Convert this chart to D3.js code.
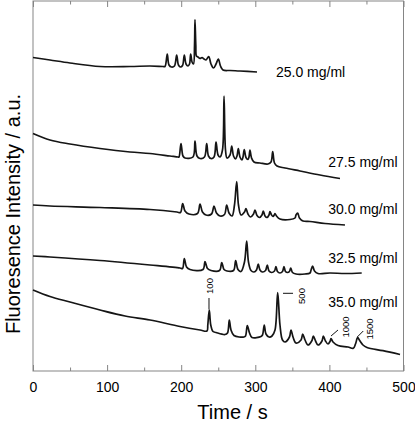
<!DOCTYPE html>
<html><head><meta charset="utf-8">
<script src="https://cdn.jsdelivr.net/npm/d3@7"></script>
<style>
html,body{margin:0;padding:0;background:#fff;}
svg{display:block;font-family:"Liberation Sans",Arial,sans-serif;}
</style></head>
<body>
<svg id="chart" width="415" height="422"></svg>
<script>
// ---- data (time in s, intensity in arbitrary units) ----
const xTicks = [0, 100, 200, 300, 400, 500];
const xMinorTicks = [50, 150, 250, 350, 450];
const seriesNames = ["25.0 mg/ml", "27.5 mg/ml", "30.0 mg/ml", "32.5 mg/ml", "35.0 mg/ml"];

const t250 = [0,22.9,49.9,90.4,130.9,157.9,175.4,178.1,181.2,183.5,186.9,190.9,193.9,196.3,199.0,201.8,204.2,206.5,209.2,211.2,212.8,214.6,216.6,218.0,218.6,219.7,220.6,222.7,225.4,228.1,230.8,233.5,237.1,240.2,243.6,247.0,250.1,253.0,256.4,265.9,279.3,302.3];
const v250 = [313.5,311,308,304.5,304.5,305,304.5,304.5,317,306,304,305,316,306,304,305.5,316,307,305,307,317,309,307,326,351.5,326,315,314,312.5,313.5,312,311,314.5,307,303,307,312,305,301,300.5,300,299];

const t275 = [0,22.9,49.9,90.4,130.9,157.9,184.9,195.7,197.0,199.7,202.4,205.1,215.9,218.6,221.3,225.4,231.4,234.4,236.8,240.2,244.3,247.0,249.7,252.4,255.7,257.8,259.8,261.8,265.9,268.2,270.6,273.3,275.3,277.1,279.3,282.0,283.4,285.1,287.4,290.1,291.5,292.8,294.9,298.2,306.3,317.1,321.2,323.5,325.9,329.3,340.1,360.3,387.3,414.3];
const v275 = [237.5,231,227,222.5,219,217.5,215,214,214,227.5,215,213,214,230,215,212.5,214,227.5,215,212.5,214,229,216,214,221,275,221,213,216,225,215,212,215,222.5,214,211,214,221.5,213.5,211.5,214,221,213,209,208,207,209,219.5,208,205,203,200,196,192.5];

const t300 = [0,22.9,90.4,157.9,194.3,199.0,202.0,205.1,210.5,222.0,225.4,228.7,233.5,240.9,244.3,247.6,252.4,258.4,261.4,264.5,268.6,271.9,274.9,277.3,280.7,285.4,287.4,290.1,293.5,297.6,299.6,302.3,305.7,309.0,310.8,313.1,315.8,318.5,319.8,321.9,323.9,325.9,326.6,328.6,333.3,346.8,353.6,354.9,357.2,359.6,364.4,373.8,394.1,421.0];
const v300 = [166,165,163.5,161.5,159,158.5,167.5,160,157,157.5,167,159,156,157,165,158,155,156.5,166,158,155,166,189.5,166,156,159,162.5,157,154,157,161,155.5,153.5,156,160,155,153.5,156,159.5,156,154.5,156.5,157.5,155,152,151.5,153,156,158,153,150,149.5,147.5,146];

const t325 = [0,22.9,90.4,157.9,198.4,201.8,204.2,207.2,211.9,229.4,232.1,235.5,240.2,251.7,254.7,257.8,261.8,270.6,273.5,276.6,280.7,285.4,288.4,290.8,294.2,298.2,301.6,304.0,306.3,309.7,313.8,316.2,318.5,321.9,325.9,327.9,329.9,333.3,336.7,338.7,340.7,343.4,346.1,347.8,350.2,354.9,367.1,373.8,375.1,377.4,379.9,384.6,400.8,421.0,443.6];
const v325 = [115,114,110.5,106,103,102.5,112.5,104,101.5,101.5,109.5,102.5,100.5,100.5,108.5,101.5,100,100.5,110.5,101.5,99.5,109,130,109,100.5,99,101,107,101,99,100.5,106,100,98.5,100,104.5,99.5,98,99.5,104.5,99.5,98.5,99.5,103,98.5,97,97,98,100.5,105,100,97.5,98,97.5,98];

const t350 = [0,22.9,49.9,90.4,124.2,157.9,198.4,225.4,234.8,235.9,237.9,239.9,242.9,247.0,259.1,262.5,264.9,267.2,271.2,284.7,286.8,289.2,292.2,295.5,307.7,309.7,312.1,314.4,318.5,322.5,326.6,330.2,333.3,336.7,340.1,346.1,348.2,350.9,354.9,361.7,364.0,367.1,371.1,376.5,378.3,381.3,384.6,390.0,391.8,394.7,398.1,400.8,402.2,404.9,411.6,425.1,432.2,435.2,438.2,441.3,445.3,450.7,472.3,495.3];
const v350 = [81,74.5,69,61,55,51,44.5,41,40,46,61,46,39.5,38.5,36.5,38,51,41,35.5,34,35,45.5,38,33.5,34.5,36,46,37,34,35,41,78.5,46,31,29,34,41,34,28,31,37,31,26,30.5,35,30,26,30,35,30,27,29.5,32.5,29,25.5,24,22.7,27,33.3,30,26,23.5,20.3,16.5];

const seriesTimes = [t250, t275, t300, t325, t350];
const seriesValues = [v250, v275, v300, v325, v350];
const labelTimes = [327.9, 398.5, 398.5, 398.5, 398.5];
const labelValues = [294.5, 204.5, 156.7, 108, 64];

const annoTexts = ["100", "500", "1000", "1500"];
const annoTextT = [242.9, 367.7, 425.8, 459.5];
const annoTextV = [85, 75, 44, 42];
const annoLineT1 = [237.5, 337.4, 402.2, 437.6];
const annoLineV1 = [73, 77.7, 35, 34];
const annoLineT2 = [237.5, 350.9, 411.6, 445.7];
const annoLineV2 = [61.5, 77.7, 41, 40];

// ---- drawing ----
const svg = d3.select("#chart");
const x = d3.scaleLinear().domain([0, 500]).range([33, 403.5]);
const y = d3.scaleLinear().domain([0, 370]).range([371, 1]);
const frameColor = "#858585";

// bottom axis (inward ticks)
const gB = svg.append("g").attr("transform", "translate(0,371)")
  .call(d3.axisBottom(x).tickValues(xTicks).tickSizeInner(-6).tickSizeOuter(0).tickPadding(11).tickFormat(d3.format("d")));
gB.selectAll(".tick line").attr("stroke", frameColor);
gB.selectAll("text").attr("font-size", 14).attr("fill", "#000").attr("font-family", "Liberation Sans, Arial, sans-serif");
gB.select(".domain").remove();
const gBm = svg.append("g").attr("transform", "translate(0,371)")
  .call(d3.axisBottom(x).tickValues(xMinorTicks).tickSizeInner(-3.5).tickSizeOuter(0).tickFormat(""));
gBm.selectAll(".tick line").attr("stroke", frameColor);
gBm.select(".domain").remove();

// top axis
const gT = svg.append("g").attr("transform", "translate(0,1)")
  .call(d3.axisTop(x).tickValues(xTicks).tickSizeInner(-6).tickSizeOuter(0).tickFormat(""));
gT.selectAll(".tick line").attr("stroke", frameColor);
gT.select(".domain").remove();
const gTm = svg.append("g").attr("transform", "translate(0,1)")
  .call(d3.axisTop(x).tickValues(xMinorTicks).tickSizeInner(-3.5).tickSizeOuter(0).tickFormat(""));
gTm.selectAll(".tick line").attr("stroke", frameColor);
gTm.select(".domain").remove();

// frame
svg.append("rect")
  .attr("x", x(0)).attr("y", y(370))
  .attr("width", x(500) - x(0)).attr("height", y(0) - y(370))
  .attr("fill", "none").attr("stroke", frameColor).attr("stroke-width", 1);

// traces
const line = d3.line().x(d => x(d[0])).y(d => y(d[1])).curve(d3.curveCatmullRom.alpha(0.5));
seriesTimes.forEach((ts, i) => {
  const pts = ts.map((t, j) => [t, seriesValues[i][j]]);
  svg.append("path").datum(pts)
    .attr("d", line)
    .attr("fill", "none").attr("stroke", "#151515")
    .attr("stroke-width", 1.7).attr("stroke-linejoin", "round");
});

// series labels
seriesNames.forEach((name, i) => {
  svg.append("text")
    .attr("x", x(labelTimes[i])).attr("y", y(labelValues[i]))
    .attr("font-size", 14).attr("fill", "#000")
    .text(name);
});

// annotations
annoTexts.forEach((txt, i) => {
  svg.append("line")
    .attr("x1", x(annoLineT1[i])).attr("y1", y(annoLineV1[i]))
    .attr("x2", x(annoLineT2[i])).attr("y2", y(annoLineV2[i]))
    .attr("stroke", "#111").attr("stroke-width", 1);
  svg.append("text")
    .attr("transform", `translate(${x(annoTextT[i])},${y(annoTextV[i])}) rotate(-90)`)
    .attr("text-anchor", "middle")
    .attr("font-size", 9.5).attr("fill", "#000")
    .text(txt);
});

// axis titles
svg.append("text")
  .attr("x", 232.5).attr("y", 419)
  .attr("text-anchor", "middle").attr("font-size", 20).attr("fill", "#000")
  .text("Time / s");
svg.append("text")
  .attr("transform", "translate(20,214) rotate(-90)")
  .attr("text-anchor", "middle").attr("font-size", 20).attr("fill", "#000")
  .text("Fluoresence Intensity / a.u.");
</script>
</body></html>
